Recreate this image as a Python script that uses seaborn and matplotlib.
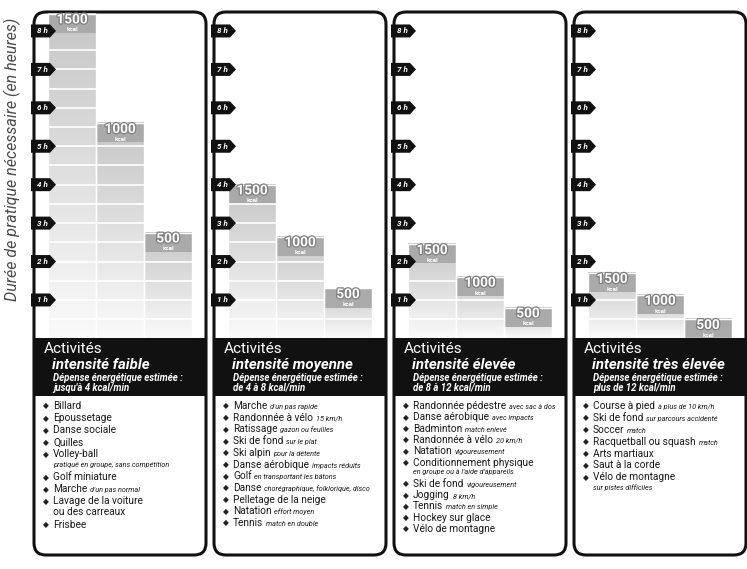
"""
Activités physiques : durée nécessaire pour dépenser 500 / 1000 / 1500 kcal
selon l'intensité (faible, moyenne, élevée, très élevée).
"""

import numpy as np
import pandas as pd
import matplotlib
matplotlib.use("Agg")
import matplotlib.pyplot as plt
import matplotlib.patheffects as pe
from matplotlib.patches import FancyBboxPatch, Rectangle, Polygon
from matplotlib.colors import LinearSegmentedColormap
import seaborn as sns

# --- values ---
kcal_labels = ["1500", "1000", "500"]
hours_faible = [8.45, 5.6, 2.75]
hours_moyenne = [4.0, 2.65, 1.3]
hours_elevee = [2.45, 1.6, 0.8]
hours_tres_elevee = [1.7, 1.13, 0.5]
hour_ticks = [1, 2, 3, 4, 5, 6, 7, 8]

intensities = ["intensité faible", "intensité moyenne",
               "intensité élevée", "intensité très élevée"]
expense_ranges = ["jusqu'à 4 kcal/min", "de 4 à 8 kcal/min",
                  "de 8 à 12 kcal/min", "plus de 12 kcal/min"]

# (activité, précision en petit italique, ligne de suite, note en italique)
activities_faible = [
    ("Billard", "", "", ""),
    ("Epoussetage", "", "", ""),
    ("Danse sociale", "", "", ""),
    ("Quilles", "", "", ""),
    ("Volley-ball", "", "", "pratiqué en groupe, sans compétition"),
    ("Golf miniature", "", "", ""),
    ("Marche", "d'un pas normal", "", ""),
    ("Lavage de la voiture", "", "ou des carreaux", ""),
    ("Frisbee", "", "", ""),
]
activities_moyenne = [
    ("Marche", "d'un pas rapide", "", ""),
    ("Randonnée à vélo", "15 km/h", "", ""),
    ("Ratissage", "gazon ou feuilles", "", ""),
    ("Ski de fond", "sur le plat", "", ""),
    ("Ski alpin", "pour la détente", "", ""),
    ("Danse aérobique", "impacts réduits", "", ""),
    ("Golf", "en transportant les bâtons", "", ""),
    ("Danse", "chorégraphique, folklorique, disco", "", ""),
    ("Pelletage de la neige", "", "", ""),
    ("Natation", "effort moyen", "", ""),
    ("Tennis", "match en double", "", ""),
]
activities_elevee = [
    ("Randonnée pédestre", "avec sac à dos", "", ""),
    ("Danse aérobique", "avec impacts", "", ""),
    ("Badminton", "match enlevé", "", ""),
    ("Randonnée à vélo", "20 km/h", "", ""),
    ("Natation", "vigoureusement", "", ""),
    ("Conditionnement physique", "", "", "en groupe ou à l'aide d'appareils"),
    ("Ski de fond", "vigoureusement", "", ""),
    ("Jogging", "8 km/h", "", ""),
    ("Tennis", "match en simple", "", ""),
    ("Hockey sur glace", "", "", ""),
    ("Vélo de montagne", "", "", ""),
]
activities_tres_elevee = [
    ("Course à pied", "à plus de 10 km/h", "", ""),
    ("Ski de fond", "sur parcours accidenté", "", ""),
    ("Soccer", "match", "", ""),
    ("Racquetball ou squash", "match", "", ""),
    ("Arts martiaux", "", "", ""),
    ("Saut à la corde", "", "", ""),
    ("Vélo de montagne", "", "", "sur pistes difficiles"),
]

panel_hours = [hours_faible, hours_moyenne, hours_elevee, hours_tres_elevee]
panel_items = [activities_faible, activities_moyenne,
               activities_elevee, activities_tres_elevee]

# --- layout (pixels) ---
W, H = 747, 569
LEFTS = [34, 214, 394, 574]
PW = 172                # panel width
TOP, BOTTOM = 12, 555   # panel frame
Y0 = 338.4              # 0 h line / top of black header
PX_H = 38.43            # pixels per hour
BAR_PX = 48             # pixels per bar
BAR_OFF = 14            # first bar offset from panel border
STEPS = [12.1, 11.7, 11.3, 11.9]

sns.set_style("white")
plt.rcParams["font.family"] = ["Roboto", "DejaVu Sans"]

fig = plt.figure(figsize=(W / 100, H / 100), dpi=100)
bg = fig.add_axes([0, 0, 1, 1])
bg.set_xlim(0, W)
bg.set_ylim(H, 0)
bg.axis("off")

bg.text(12, 159, "Durée de pratique nécessaire (en heures)", rotation=90,
        ha="center", va="center", fontsize=11.5, style="italic", color="#4a4a4a")

for l, name, rng, items, step in zip(LEFTS, intensities, expense_ranges,
                                     panel_items, STEPS):
    bg.add_patch(FancyBboxPatch((l, TOP), PW, BOTTOM - TOP,
                                boxstyle="round,pad=0,rounding_size=12",
                                facecolor="white", edgecolor="none", zorder=1))
    bg.add_patch(Rectangle((l, Y0), PW, 396 - Y0, facecolor="#111111",
                           edgecolor="none", zorder=2))
    bg.add_patch(FancyBboxPatch((l, TOP), PW, BOTTOM - TOP,
                                boxstyle="round,pad=0,rounding_size=12",
                                facecolor="none", edgecolor="#111111",
                                linewidth=2.2, zorder=3))

    # header
    bg.text(l + 10, 349, "Activités", color="white", fontsize=11,
            ha="left", va="center", zorder=4)
    bg.text(l + 18, 364.5, name, color="white", fontsize=10.8, fontweight="bold",
            style="italic", ha="left", va="center", zorder=4)
    bg.text(l + 19, 378, "Dépense énergétique estimée :", color="white",
            fontsize=6.9, fontweight="bold", style="italic", ha="left",
            va="center", zorder=4)
    bg.text(l + 19, 387.5, rng, color="white", fontsize=6.9, fontweight="bold",
            style="italic", ha="left", va="center", zorder=4)

    # list of activities
    y = 406
    for main, qual, cont, note in items:
        bg.text(l + 12, y, "◆", family="DejaVu Sans", fontsize=5.5,
                ha="center", va="center", color="#222222", zorder=4)
        t = bg.text(l + 19, y, main, fontsize=7.3, ha="left", va="center",
                    color="#1a1a1a", zorder=4)
        if qual:
            bg.annotate(qual, xy=(1, 0), xycoords=t, xytext=(2, 0.7),
                        textcoords="offset points", fontsize=5.2,
                        style="italic", ha="left", va="bottom",
                        color="#1a1a1a", zorder=4)
        if cont:
            y += step * 0.92
            bg.text(l + 19, y, cont, fontsize=7.3, ha="left", va="center",
                    color="#1a1a1a", zorder=4)
        if note:
            y += step * 0.88
            bg.text(l + 19, y, note, fontsize=5.2, style="italic", ha="left",
                    va="center", color="#1a1a1a", zorder=4)
        y += step

# --- bar panels ---
cmap = LinearSegmentedColormap.from_list("fade", ["#fafafa", "#c6c6c6"])
grad = np.linspace(0, 1, 200).reshape(-1, 1)
xlim0 = -0.5 - BAR_OFF / BAR_PX
xlim1 = xlim0 + PW / BAR_PX

for l, hours in zip(LEFTS, panel_hours):
    ax = fig.add_axes([l / W, 1 - Y0 / H, PW / W, Y0 / H])
    df = pd.DataFrame({"kcal": kcal_labels, "heures": hours})
    sns.barplot(data=df, x="kcal", y="heures", ax=ax, color="#d0d0d0",
                width=1.0, saturation=1, edgecolor="white", linewidth=1.0)

    for p, lab in zip(ax.patches, kcal_labels):
        x0, w, h = p.get_x(), p.get_width(), p.get_height()
        ax.imshow(grad, extent=[x0, x0 + w, 0, h], origin="lower",
                  aspect="auto", cmap=cmap, vmin=0, vmax=1, zorder=1)
        p.set_facecolor("none")
        p.set_zorder(4)
        ax.add_patch(Rectangle((x0, h - 0.5), w, 0.5, facecolor="#aaaaaa",
                               edgecolor="none", zorder=2))
        ax.hlines(np.arange(0.5, h - 0.5 + 1e-6, 0.5), x0, x0 + w,
                  color="white", linewidth=1.2, zorder=3)
        ax.text(x0 + w / 2, h - 0.15, lab, color="white", fontsize=9.8,
                fontweight="bold", ha="center", va="center", zorder=5,
                path_effects=[pe.withStroke(linewidth=1.8, foreground="#7f7f7f")])
        ax.text(x0 + w / 2, h - 0.42, "kcal", color="white", fontsize=4.5,
                fontweight="bold", ha="center", va="center", zorder=5)

    # hour tags on the panel border
    dx = np.array([-3, 16, 22, 16, -3]) / BAR_PX
    dy = np.array([-6.5, -6.5, 0, 6.5, 6.5]) / PX_H
    for k in hour_ticks:
        ax.add_patch(Polygon(np.c_[xlim0 + dx, k + dy], closed=True,
                             facecolor="#111111", edgecolor="none",
                             zorder=6, clip_on=False))
        ax.text(xlim0 + 8 / BAR_PX, k, f"{k} h", color="white", fontsize=5.8,
                fontweight="bold", style="italic", ha="center", va="center",
                zorder=7)

    ax.set_xlim(xlim0, xlim1)
    ax.set_ylim(0, Y0 / PX_H)
    ax.axis("off")

fig.savefig("out.png", dpi=100)
